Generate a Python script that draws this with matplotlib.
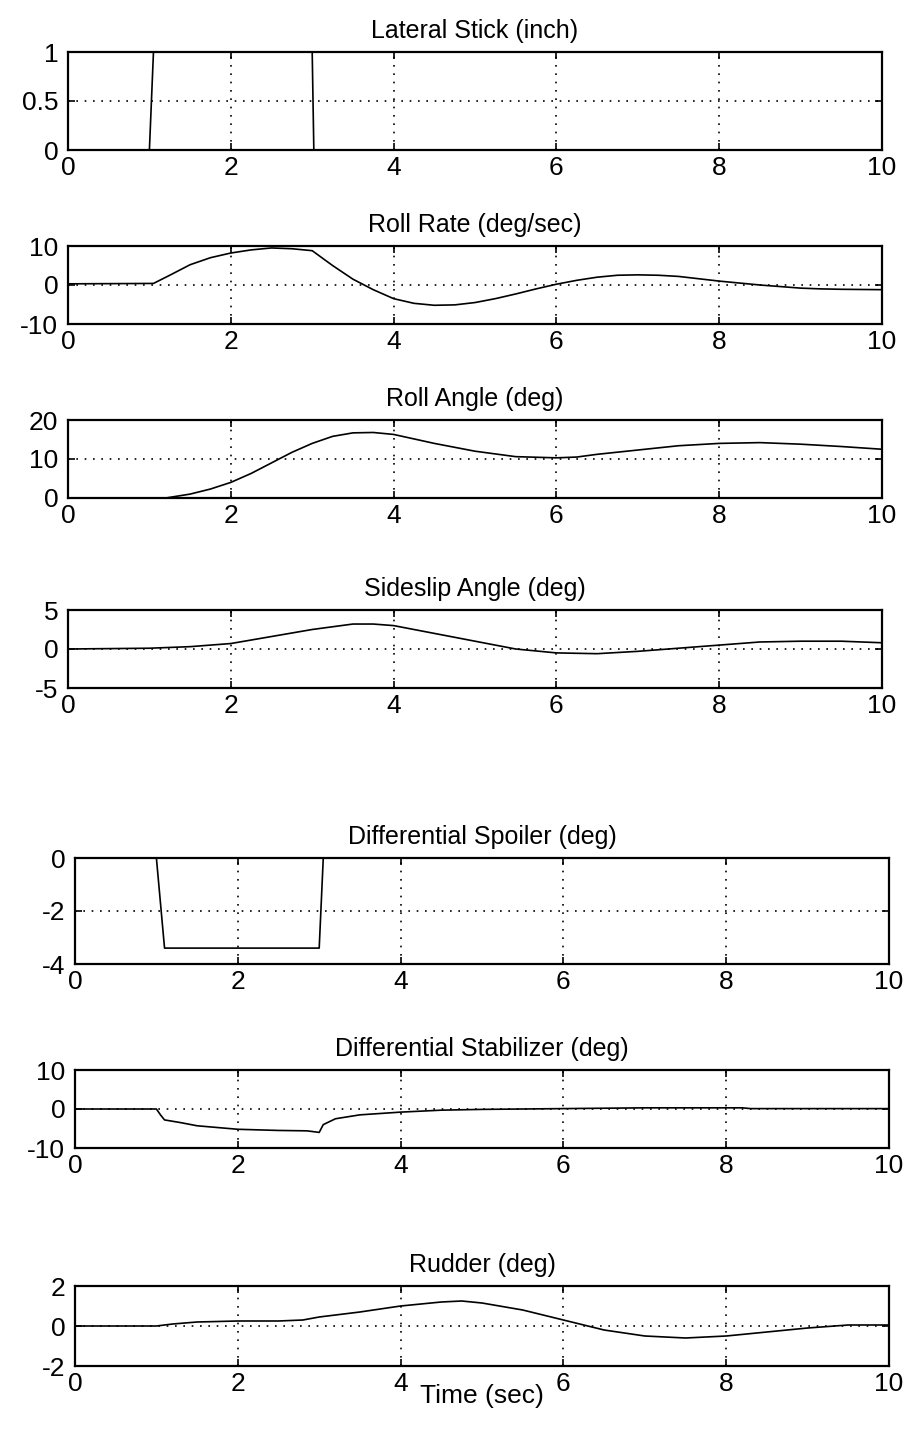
import matplotlib
matplotlib.use("Agg")
import matplotlib.pyplot as plt
import numpy as np

plt.rcParams['font.family'] = ['Liberation Sans', 'DejaVu Sans']

# Time histories of the lateral stick step response
stick_t = [0, 1.0, 1.05, 3.0, 3.02, 10]
stick_v = [0, 0, 1, 1, 0, 0]

roll_rate_t = [0, 1.05, 1.25, 1.5, 1.75, 2.0, 2.25, 2.5, 2.75, 3.0, 3.25, 3.5, 3.75, 4.0,
               4.25, 4.5, 4.75, 5.0, 5.25, 5.5, 5.75, 6.0, 6.25, 6.5, 6.75, 7.0, 7.25,
               7.5, 7.75, 8.0, 8.25, 8.5, 8.75, 9.0, 9.25, 9.5, 10]
roll_rate_v = [0.3, 0.4, 2.5, 5.2, 7.0, 8.2, 9.0, 9.5, 9.3, 8.8, 5.0, 1.5, -1.2, -3.5,
               -4.7, -5.2, -5.1, -4.5, -3.5, -2.3, -1.0, 0.2, 1.2, 2.0, 2.5, 2.6, 2.5,
               2.2, 1.6, 1.0, 0.5, 0.0, -0.4, -0.8, -1.0, -1.1, -1.2]

roll_t = [0, 1.2, 1.5, 1.75, 2.0, 2.25, 2.5, 2.75, 3.0, 3.25, 3.5, 3.75, 4.0, 4.5, 5.0,
          5.5, 6.0, 6.25, 6.5, 7.0, 7.5, 8.0, 8.5, 9.0, 9.5, 10]
roll_v = [0, 0, 1.0, 2.3, 4.0, 6.3, 9.0, 11.7, 14.0, 15.8, 16.7, 16.8, 16.3, 14.0, 12.0,
          10.6, 10.3, 10.5, 11.2, 12.3, 13.4, 14.0, 14.2, 13.8, 13.2, 12.5]

beta_t = [0, 1.0, 1.5, 2.0, 2.5, 3.0, 3.5, 3.75, 4.0, 4.5, 5.0, 5.5, 6.0, 6.5, 7.0, 7.5,
          8.0, 8.5, 9.0, 9.5, 10]
beta_v = [0, 0.1, 0.3, 0.7, 1.6, 2.5, 3.2, 3.2, 3.0, 2.0, 1.0, 0.0, -0.5, -0.6, -0.3,
          0.1, 0.5, 0.9, 1.0, 1.0, 0.8]

spoiler_t = [0, 1.0, 1.1, 3.0, 3.05, 10]
spoiler_v = [0, 0, -3.4, -3.4, 0, 0]

stab_t = [0, 1.0, 1.05, 1.1, 1.3, 1.5, 2.0, 2.5, 2.85, 3.0, 3.05, 3.2, 3.5, 4.0, 4.5,
          5.0, 6.0, 7.0, 8.2, 8.3, 10]
stab_v = [0, 0, -1.5, -2.8, -3.5, -4.3, -5.2, -5.5, -5.6, -6.0, -4.0, -2.5, -1.5, -0.8,
          -0.3, -0.1, 0.1, 0.3, 0.3, 0.1, 0.1]

rudder_t = [0, 1.0, 1.2, 1.5, 2.0, 2.5, 2.8, 3.0, 3.5, 4.0, 4.5, 4.75, 5.0, 5.5, 6.0,
            6.5, 7.0, 7.5, 8.0, 8.5, 9.0, 9.5, 10]
rudder_v = [0, 0, 0.1, 0.2, 0.25, 0.25, 0.3, 0.45, 0.7, 1.0, 1.2, 1.25, 1.15, 0.8, 0.3,
            -0.2, -0.5, -0.6, -0.5, -0.3, -0.1, 0.05, 0.05]

titles = ['Lateral Stick (inch)', 'Roll Rate (deg/sec)', 'Roll Angle (deg)',
          'Sideslip Angle (deg)', 'Differential Spoiler (deg)',
          'Differential Stabilizer (deg)', 'Rudder (deg)']
series = [(stick_t, stick_v), (roll_rate_t, roll_rate_v), (roll_t, roll_v),
          (beta_t, beta_v), (spoiler_t, spoiler_v), (stab_t, stab_v),
          (rudder_t, rudder_v)]
ylims = [(0, 1), (-10, 10), (0, 20), (-5, 5), (-4, 0), (-10, 10), (-2, 2)]
yticks = [[0, 0.5, 1], [-10, 0, 10], [0, 10, 20], [-5, 0, 5], [-4, -2, 0],
          [-10, 0, 10], [-2, 0, 2]]
ytick_labels = [['0', '0.5', '1'], ['-10', '0', '10'], ['0', '10', '20'],
                ['-5', '0', '5'], ['-4', '-2', '0'], ['-10', '0', '10'],
                ['-2', '0', '2']]
xticks = [0, 2, 4, 6, 8, 10]

W, H = 909, 1454
# axes boxes in pixels: left, top, right, bottom
boxes = [(68, 52, 882, 150), (68, 246, 882, 324), (68, 420, 882, 498),
         (68, 610, 882, 688), (75, 858, 889, 964), (75, 1070, 889, 1148),
         (75, 1286, 889, 1366)]

fig = plt.figure(figsize=(W / 100, H / 100), dpi=100)

for i in range(7):
    l, t, r, b = boxes[i]
    ax = fig.add_axes([l / W, 1 - b / H, (r - l) / W, (b - t) / H])
    x, y = series[i]
    ax.plot(x, y, color='black', linewidth=1.2, clip_on=False)
    ax.set_xlim(0, 10)
    ax.set_ylim(*ylims[i])
    ax.set_xticks(xticks)
    ax.set_xticklabels([str(v) for v in xticks])
    ax.set_yticks(yticks[i])
    ax.set_yticklabels(ytick_labels[i])
    ax.grid(True, linestyle=(0, (1, 4)), color='black', linewidth=1.2)
    ax.tick_params(direction='in', length=5, width=1.2, labelsize=19,
                   top=True, right=True)
    ax.tick_params(axis='x', pad=4)
    ax.tick_params(axis='y', pad=7)
    for s in ax.spines.values():
        s.set_linewidth(1.6)
    ax.set_title(titles[i], fontsize=18, pad=10)

ax.set_xlabel('Time (sec)', fontsize=19, labelpad=-8)

fig.savefig('out.png', dpi=100, facecolor='white')
